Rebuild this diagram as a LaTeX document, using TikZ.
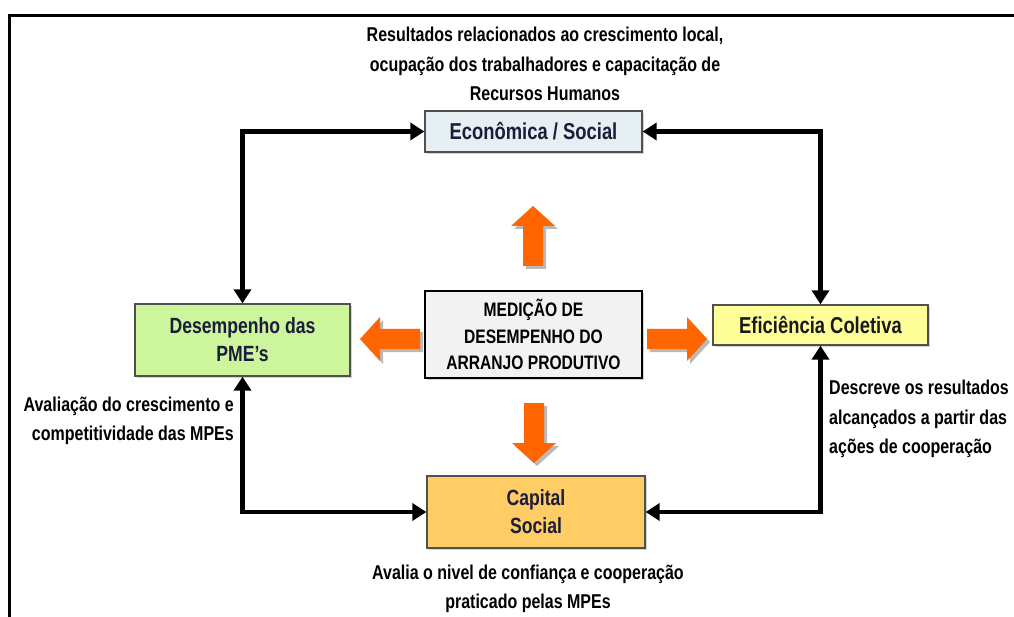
\documentclass[tikz,border=0pt]{standalone}
\usepackage{fontspec}
\setmainfont{Liberation Sans}[FakeStretch=0.8]
\usetikzlibrary{arrows.meta,shadows}
\definecolor{econfill}{HTML}{E6EFF2}
\definecolor{greenfill}{HTML}{CCF59C}
\definecolor{centerfill}{HTML}{F2F2F2}
\definecolor{yellowfill}{HTML}{FFFF99}
\definecolor{capfill}{HTML}{FFCC66}
\definecolor{arrorange}{HTML}{FF6600}
\definecolor{boxtext}{HTML}{1C1C3C}
\definecolor{boxborder}{HTML}{505050}
\tikzset{
  box/.style={draw=boxborder, line width=1.3pt, minimum width=#1, inner sep=0pt, align=center,
    text=boxtext, drop shadow={shadow xshift=2pt, shadow yshift=-2pt, opacity=0.35}},
  conn/.style={line width=4.5pt, {Triangle[length=14pt,width=17pt]}-{Triangle[length=14pt,width=17pt]}},
  lbl/.style={inner sep=0pt, font=\bfseries\fontsize{20}{29.5}\selectfont, text=black},
  pics/barrow/.style={code={
    \fill[#1] (0,-10) -- (40,-10) -- (40,-22) -- (60,0) -- (40,22) -- (40,10) -- (0,10) -- cycle;
  }}
}
\begin{document}
\begin{tikzpicture}[x=1pt,y=-1pt]
\useasboundingbox (0,0) rectangle (1014,617);
\fill[white] (0,0) rectangle (1014,617);
% frame
\draw[line width=3pt] (1014,16) -- (9,16) -- (9,617);

% boxes
\node[box=217pt, fill=econfill, minimum height=41pt, font=\bfseries\fontsize{23}{26}\selectfont]
  (econ) at (533.5,131.5) {Econômica / Social};
\node[box=215pt, fill=greenfill, minimum height=72pt, font=\bfseries\fontsize{22}{28}\selectfont]
  (desemp) at (242.5,340) {Desempenho das\\PME’s};
\node[box=217pt, fill=centerfill, draw=black, minimum height=87pt, text=black, font=\bfseries\fontsize{19.5}{26.5}\selectfont]
  (center) at (533.5,334.5) {MEDIÇÃO DE\\DESEMPENHO DO\\ARRANJO PRODUTIVO};
\node[box=215pt, fill=yellowfill, minimum height=40pt, text=black!90, font=\bfseries\fontsize{23}{26}\selectfont]
  (efic) at (820.5,325) {Eficiência Coletiva};
\node[box=218pt, fill=capfill, minimum height=72pt, font=\bfseries\fontsize{22}{28}\selectfont]
  (capital) at (536,512) {Capital\\Social};

% connectors
\draw[conn] (econ.west) -| (desemp.north);
\draw[conn] (econ.east) -| (efic.north);
\draw[conn] (desemp.south) |- (capital.west);
\draw[conn] (efic.south) |- (capital.east);

% block arrows (shadow then arrow)
\pic[rotate=90] at (536,269) {barrow=gray!55};
\pic[rotate=90] at (533,266) {barrow=arrorange};
\pic[rotate=-90] at (537,406) {barrow=gray!55};
\pic[rotate=-90] at (534,403) {barrow=arrorange};
\pic[rotate=180] at (423,342) {barrow=gray!55};
\pic[rotate=180] at (420,339) {barrow=arrorange};
\pic at (650,342) {barrow=gray!55};
\pic at (647,339) {barrow=arrorange};

% labels
\node[lbl, align=center] (ltop) at (545,64) {Resultados relacionados ao crescimento local,\\ocupação dos trabalhadores e capacitação de\\Recursos Humanos};
\node[lbl, align=right, anchor=east] (lleft) at (234,421) {Avaliação do crescimento e\\competitividade das MPEs};
\node[lbl, align=left, anchor=west] (lright) at (829,419) {Descreve os resultados\\alcançados a partir das\\ações de cooperação};
\node[lbl, align=center] (lbottom) at (528,589) {Avalia o nivel de confiança e cooperação\\praticado pelas MPEs};
\end{tikzpicture}
\end{document}
